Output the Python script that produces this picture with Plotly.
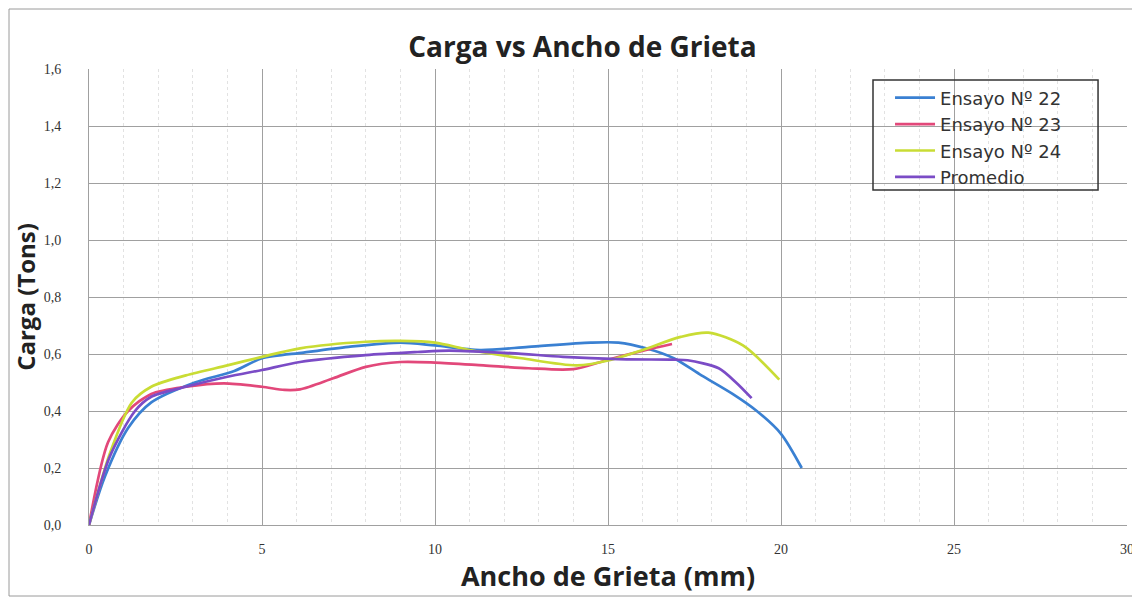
import plotly.graph_objects as go

# valores
x_e22 = [0, 0.46, 1.13, 1.8, 3.06, 4.2, 5.0, 6.2, 7.5, 9.0, 10.0, 11.3, 12.7, 14.5, 15.3, 16.1, 16.9, 17.7, 18.6, 19.3, 20.0, 20.6]
y_e22 = [0, 0.17, 0.34, 0.43, 0.50, 0.54, 0.585, 0.605, 0.625, 0.64, 0.63, 0.614, 0.625, 0.64, 0.64, 0.62, 0.585, 0.525, 0.46, 0.40, 0.32, 0.20]

x_e23 = [0, 0.55, 1.13, 1.8, 2.8, 3.9, 5.0, 5.65, 6.1, 7.06, 8.0, 9.0, 10.0, 11.4, 12.7, 14.0, 15.0, 16.1, 16.85]
y_e23 = [0, 0.29, 0.40, 0.46, 0.485, 0.497, 0.485, 0.474, 0.476, 0.515, 0.555, 0.572, 0.57, 0.56, 0.55, 0.547, 0.58, 0.614, 0.635]

x_e24 = [0, 0.6, 1.24, 1.8, 2.8, 4.0, 5.0, 6.1, 8.0, 9.0, 10.0, 11.0, 12.5, 14.1, 15.1, 16.0, 17.1, 17.9, 18.9, 19.95]
y_e24 = [0, 0.25, 0.43, 0.485, 0.525, 0.56, 0.59, 0.62, 0.643, 0.646, 0.64, 0.614, 0.585, 0.56, 0.58, 0.614, 0.66, 0.675, 0.63, 0.51]

x_prom = [0, 0.6, 1.33, 1.8, 2.8, 4.0, 5.0, 6.1, 8.0, 9.5, 10.4, 12.2, 13.7, 15.3, 16.9, 17.3, 18.2, 18.7, 19.15]
y_prom = [0, 0.24, 0.40, 0.45, 0.485, 0.52, 0.544, 0.572, 0.596, 0.607, 0.612, 0.603, 0.59, 0.582, 0.58, 0.578, 0.55, 0.50, 0.445]

series = [
    ("Ensayo Nº 22", x_e22, y_e22, "#3a80d2"),
    ("Ensayo Nº 23", x_e23, y_e23, "#e2487a"),
    ("Ensayo Nº 24", x_e24, y_e24, "#c9dc34"),
    ("Promedio", x_prom, y_prom, "#7b4cc6"),
]

fig = go.Figure()
for name, xs, ys, col in series:
    fig.add_trace(go.Scatter(x=xs, y=ys, mode="lines", name=name,
                             line=dict(color=col, width=2.7, shape="spline", smoothing=0.8)))

# la pagina deja 8px de margen en el body, por eso 1132x589
fig.update_layout(
    width=1132, height=589,
    margin=dict(l=81, r=13, t=61, b=72, autoexpand=False),
    paper_bgcolor="white", plot_bgcolor="white",
    separators=",.",
    title=dict(text="<b>Carga vs Ancho de Grieta</b>", x=0.5075, xanchor="center",
               y=0.934, yanchor="middle",
               font=dict(family="Open Sans", size=28, color="#222")),
    legend=dict(x=0.7717, y=0.977, xanchor="left", yanchor="top",
                borderwidth=0, bgcolor="rgba(0,0,0,0)",
                font=dict(family="DejaVu Sans", size=18, color="#333"),
                tracegroupgap=0, itemwidth=40),
    showlegend=True,
)

fig.update_xaxes(
    range=[0, 30], dtick=5, tickformat="d",
    showgrid=True, gridcolor="#a0a0a0", gridwidth=1,
    minor=dict(dtick=1, showgrid=True, gridcolor="#e2e2e2", griddash="dot"),
    showline=True, linecolor="#a0a0a0", zeroline=False,
    ticks="", ticklabelstandoff=11, automargin=False,
    tickfont=dict(family="Liberation Serif", size=14, color="#333"),
    title=dict(text="<b>Ancho de Grieta (mm)</b>", standoff=6,
               font=dict(family="Open Sans", size=27, color="#222")),
)
fig.update_yaxes(
    range=[0, 1.6], dtick=0.2, tickformat=".1f",
    showgrid=True, gridcolor="#a0a0a0", gridwidth=1,
    showline=True, linecolor="#a0a0a0", zeroline=False,
    ticks="", ticklabelstandoff=24, automargin=False,
    tickfont=dict(family="Liberation Serif", size=14, color="#333"),
    title=dict(text="<b>Carga (Tons)</b>", standoff=1,
               font=dict(family="Open Sans", size=24, color="#222")),
)

# caja de la leyenda (con borde)
fig.add_shape(type="rect", xref="paper", yref="paper", layer="above",
              x0=0.7553, x1=0.9721, y0=0.7346, y1=0.9759,
              line=dict(color="#333", width=1.5))

# marco exterior del grafico
fig.add_shape(type="rect", xref="paper", yref="paper",
              x0=-80 / 1038, x1=1050 / 1038, y0=-71 / 456, y1=516 / 456,
              line=dict(color="#9a9a9a", width=1))

fig.write_html("out.html")
